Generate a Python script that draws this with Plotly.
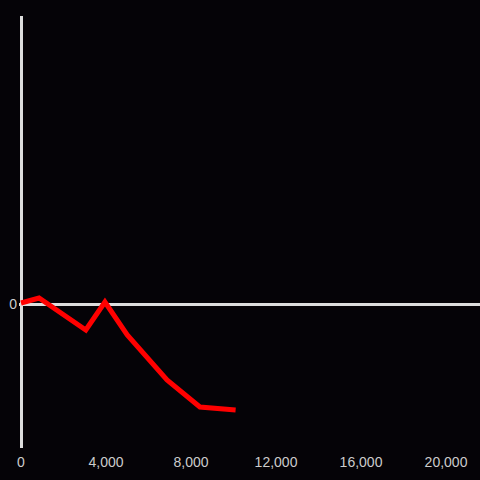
import plotly.graph_objects as go

x_vals = [0, 850, 3050, 3950, 5000, 6870, 8420, 10100]
y_vals = [1, 6, -26, 2, -31, -76, -103, -106]
x_ticks = [0, 4000, 8000, 12000, 16000, 20000]
x_tick_labels = ["0", "4,000", "8,000", "12,000", "16,000", "20,000"]

fig = go.Figure()
fig.add_trace(go.Scatter(x=x_vals, y=y_vals, mode="lines",
                         line=dict(color="#ff0000", width=5)))

fig.update_layout(
    width=480, height=480,
    margin=dict(l=19, r=0, t=16, b=32),
    paper_bgcolor="#050307", plot_bgcolor="#050307",
    showlegend=False,
    font=dict(family="Liberation Sans, Arial", size=14, color="#cccccc"),
    xaxis=dict(range=[-94, 21600], tickvals=x_ticks, ticktext=x_tick_labels,
               showgrid=False, zeroline=True, zerolinecolor="#dddddd",
               zerolinewidth=3, showline=False, ticks="", ticklabelstandoff=4),
    yaxis=dict(range=[-144, 288], tickvals=[0], ticktext=["0"],
               showgrid=False, zeroline=True, zerolinecolor="#dddddd",
               zerolinewidth=3, showline=False, ticks="", ticklabelstandoff=1),
)
fig.write_html("out.html", config={"displayModeBar": False},
               post_script="document.body.style.margin='0';document.body.style.background='#050307';")
